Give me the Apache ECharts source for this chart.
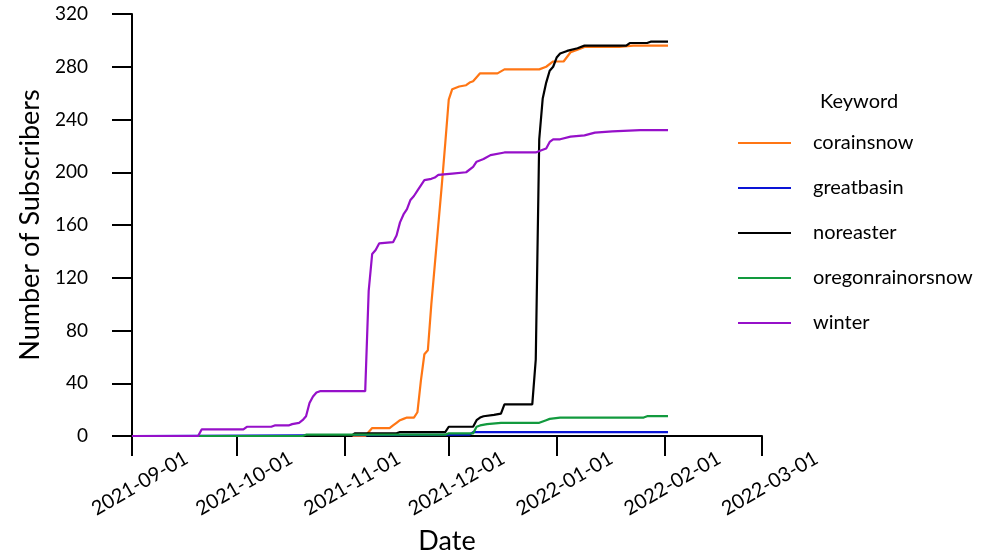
<!DOCTYPE html>
<html>
<head>
<meta charset="utf-8">
<script src="https://cdn.jsdelivr.net/npm/echarts@6/dist/echarts.min.js"></script>
<style>
  html, body { margin: 0; padding: 0; background: #fff; }
  #chart { width: 992px; height: 554px; }
</style>
</head>
<body>
<div id="chart"></div>
<script>
// ---- Data ----
const seriesNames = ['corainsnow', 'greatbasin', 'noreaster', 'oregonrainorsnow', 'winter'];
const xTickLabels = ['2021-09-01', '2021-10-01', '2021-11-01', '2021-12-01', '2022-01-01', '2022-02-01', '2022-03-01'];
const yTickLabels = [0, 40, 80, 120, 160, 200, 240, 280, 320];

const corainsnowDates = ['2021-09-01','2021-11-07','2021-11-08','2021-11-09','2021-11-14','2021-11-15','2021-11-16','2021-11-17','2021-11-18','2021-11-19','2021-11-21','2021-11-22','2021-11-23','2021-11-24','2021-11-25','2021-11-26','2021-11-27','2021-11-28','2021-11-29','2021-11-30','2021-12-01','2021-12-02','2021-12-04','2021-12-06','2021-12-07','2021-12-08','2021-12-10','2021-12-15','2021-12-17','2021-12-27','2021-12-29','2021-12-31','2022-01-03','2022-01-05','2022-01-07','2022-01-09','2022-01-19','2022-01-23','2022-02-02'];
const corainsnowValues = [0,0,3,6,6,8,10,12,13,14,14,18,42,62,65,100,130,160,190,222,255,263,265,266,268,269,275,275,278,278,280,284,284,291,293,295,295,296,296];

const greatbasinDates = ['2021-09-01','2021-12-07','2021-12-08','2022-02-02'];
const greatbasinValues = [0,1,3,3];

const noreasterDates = ['2021-09-01','2021-11-03','2021-11-04','2021-11-16','2021-11-17','2021-11-30','2021-12-01','2021-12-08','2021-12-09','2021-12-10','2021-12-11','2021-12-14','2021-12-16','2021-12-17','2021-12-25','2021-12-26','2021-12-27','2021-12-28','2021-12-29','2021-12-30','2021-12-31','2022-01-01','2022-01-02','2022-01-04','2022-01-07','2022-01-09','2022-01-21','2022-01-22','2022-01-27','2022-01-28','2022-02-02'];
const noreasterValues = [0,0,2,2,3,3,7,7,12,14,15,16,17,24,24,58,225,256,268,277,280,287,290,292,294,296,296,298,298,299,299];

const oregonDates = ['2021-09-01','2021-10-20','2021-10-21','2021-11-30','2021-12-01','2021-12-08','2021-12-09','2021-12-10','2021-12-12','2021-12-16','2021-12-27','2021-12-28','2021-12-29','2021-12-30','2022-01-02','2022-01-26','2022-01-27','2022-02-02'];
const oregonValues = [0,0,1,1,2,2,7,8,9,10,10,11,12,13,14,14,15,15];

const winterDates = ['2021-09-01','2021-09-20','2021-09-21','2021-10-03','2021-10-04','2021-10-11','2021-10-12','2021-10-16','2021-10-17','2021-10-19','2021-10-20','2021-10-21','2021-10-22','2021-10-23','2021-10-24','2021-10-25','2021-11-07','2021-11-08','2021-11-09','2021-11-10','2021-11-11','2021-11-15','2021-11-16','2021-11-17','2021-11-18','2021-11-19','2021-11-20','2021-11-21','2021-11-22','2021-11-23','2021-11-24','2021-11-26','2021-11-27','2021-11-28','2021-12-02','2021-12-06','2021-12-08','2021-12-09','2021-12-11','2021-12-13','2021-12-17','2021-12-26','2021-12-28','2021-12-29','2021-12-30','2021-12-31','2022-01-02','2022-01-05','2022-01-09','2022-01-12','2022-01-17','2022-01-25','2022-02-02'];
const winterValues = [0,0,5,5,7,7,8,8,9,10,12,15,25,30,33,34,34,110,138,141,146,147,152,162,168,172,179,182,186,190,194,195,196,198,199,200,204,208,210,213,215,215,217,218,223,225,225,227,228,230,231,232,232];

const seriesColors = ['#ff7614', '#0a14d6', '#000000', '#129a3e', '#9610c9'];

// ---- Build ----
function pairs(dates, values) {
  return dates.map((d, i) => [d, values[i]]);
}
const seriesData = [
  pairs(corainsnowDates, corainsnowValues),
  pairs(greatbasinDates, greatbasinValues),
  pairs(noreasterDates, noreasterValues),
  pairs(oregonDates, oregonValues),
  pairs(winterDates, winterValues)
];

const FONT = 'Lato';
const chart = echarts.init(document.getElementById('chart'), null, { renderer: 'canvas' });

chart.setOption({
  animation: false,
  backgroundColor: '#ffffff',
  textStyle: { fontFamily: FONT, color: '#000' },
  title: {
    text: 'Keyword',
    left: 820,
    top: 92,
    padding: 0,
    textStyle: { fontFamily: FONT, fontSize: 20, fontWeight: 'normal', color: '#000' }
  },
  legend: {
    orient: 'vertical',
    left: 738,
    top: 133,
    padding: 0,
    itemWidth: 53,
    itemHeight: 14,
    itemGap: 25,
    icon: 'path://M0,6 L53,6 L53,8 L0,8 Z',
    data: seriesNames,
    textStyle: { fontFamily: FONT, fontSize: 20, color: '#000', padding: [0, 0, 0, 17] }
  },
  grid: { left: 132, right: 230, top: 14, bottom: 118, containLabel: false, outerBoundsMode: 'none' },
  xAxis: {
    type: 'time',
    min: xTickLabels[0],
    max: xTickLabels[xTickLabels.length - 1],
    splitNumber: 6,
    minInterval: 28 * 86400000,
    name: 'Date',
    nameLocation: 'middle',
    nameGap: 92,
    nameTextStyle: { fontFamily: FONT, fontSize: 27, color: '#000' },
    axisLine: { show: true, lineStyle: { color: '#000', width: 2 } },
    axisTick: { show: true, length: 20, lineStyle: { color: '#000', width: 2 } },
    splitLine: { show: false },
    axisLabel: {
      rotate: 30,
      align: 'center',
      verticalAlign: 'middle',
      margin: 52,
      padding: [0, 0, 0, 18],
      fontFamily: FONT,
      fontSize: 20,
      color: '#000',
      formatter: '{yyyy}-{MM}-{dd}',
      showMinLabel: true,
      showMaxLabel: true
    }
  },
  yAxis: {
    type: 'value',
    min: yTickLabels[0],
    max: yTickLabels[yTickLabels.length - 1],
    interval: 40,
    name: 'Number of Subscribers',
    nameLocation: 'middle',
    nameGap: 88,
    nameTextStyle: { fontFamily: FONT, fontSize: 27, color: '#000' },
    axisLine: { show: true, lineStyle: { color: '#000', width: 2 } },
    axisTick: { show: true, length: 20, lineStyle: { color: '#000', width: 2 } },
    splitLine: { show: false },
    axisLabel: { margin: 44, fontFamily: FONT, fontSize: 19, color: '#000' }
  },
  series: seriesNames.map((name, i) => ({
    name: name,
    type: 'line',
    data: seriesData[i],
    showSymbol: false,
    symbol: 'none',
    lineStyle: { color: seriesColors[i], width: 2.2 },
    itemStyle: { color: seriesColors[i] },
    z: 2 + i
  }))
});
</script>
</body>
</html>
